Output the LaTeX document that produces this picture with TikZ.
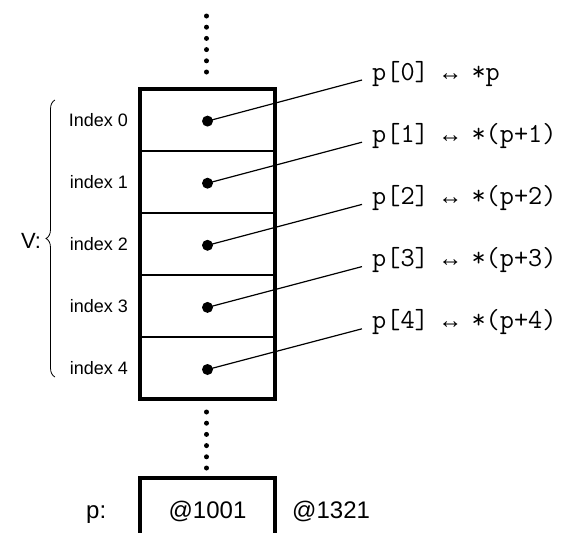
\documentclass[tikz,border=0pt]{standalone}
\usepackage{fontspec}
\setmainfont{Liberation Sans}
\newfontfamily\arrowfont{Liberation Mono}
\usetikzlibrary{positioning,decorations.pathreplacing}

\begin{document}
\begin{tikzpicture}[x=1pt,y=-1pt,
        cell/.style={draw, line width=1.8pt, minimum width=135pt, minimum height=62.1pt, inner sep=0pt, outer sep=0pt},
        ptr/.style={circle, fill, inner sep=0pt, minimum size=11pt},
        idx/.style={inner sep=0pt, font=\fontsize{18}{20}\selectfont},
        addr/.style={inner xsep=10pt, inner ysep=0pt, font=\ttfamily\fontsize{27.5}{29}\selectfont},
        big/.style={inner sep=0pt, font=\fontsize{24}{26}\selectfont},
        vdots/.style={line width=5pt, line cap=round, dash pattern=on 0pt off 11.2pt}]
    \useasboundingbox (0,0) rectangle (568,533);

    % Array cells with a dot in each
    \foreach \i in {0,...,4} {
        \node[cell] (c\i) at (207.5,{119.6+62.1*\i}) {};
        \node[ptr] (d\i) at ([yshift=-1.5pt]c\i.center) {};
    }
    \draw[line width=4pt] (c0.north west) rectangle (c4.south east);

    % Index labels
    \foreach \i/\t in {0/Index 0, 1/index 1, 2/index 2, 3/index 3, 4/index 4}
        \node[idx, left=12pt of c\i] (i\i) {\t};

    % Brace and name
    \draw[decorate, decoration={brace, amplitude=9pt}, line width=0.8pt]
        (55,377) -- (55,100);
    \node[inner sep=0pt, font=\fontsize{22}{24}\selectfont] (vname) at (31,241) {V:};

    % Pointer expressions
    \foreach \i/\e in {0/*p, 1/*(p+1), 2/*(p+2), 3/*(p+3), 4/*(p+4)} {
        \node[addr, anchor=base west] (a\i) at (362,{80+62.2*\i}) {p[\i] {\arrowfont\fontsize{24}{26}\selectfont ↔} \e};
        \draw[line width=1.2pt] (d\i.center) -- (a\i.base west);
    }

    % Dots above and below
    \coordinate (up1) at (206.5,16);
    \coordinate (up2) at (206.5,72.5);
    \coordinate (dn1) at (206.5,412);
    \coordinate (dn2) at (206.5,468.5);
    \draw[vdots] (up1) -- (up2);
    \draw[vdots] (dn1) -- (dn2);

    % Pointer variable
    \node[draw, line width=4pt, minimum width=135pt, minimum height=68pt, text height=17pt, text depth=5pt,
        outer sep=0pt, font=\fontsize{24}{26}\selectfont] (pbox) at (207.5,512) {@1001};
    \node[big, anchor=base west] (pname) at (86,518) {p:};
    \node[big, anchor=base west] (paddr) at (292,518) {@1321};
\end{tikzpicture}
\end{document}
